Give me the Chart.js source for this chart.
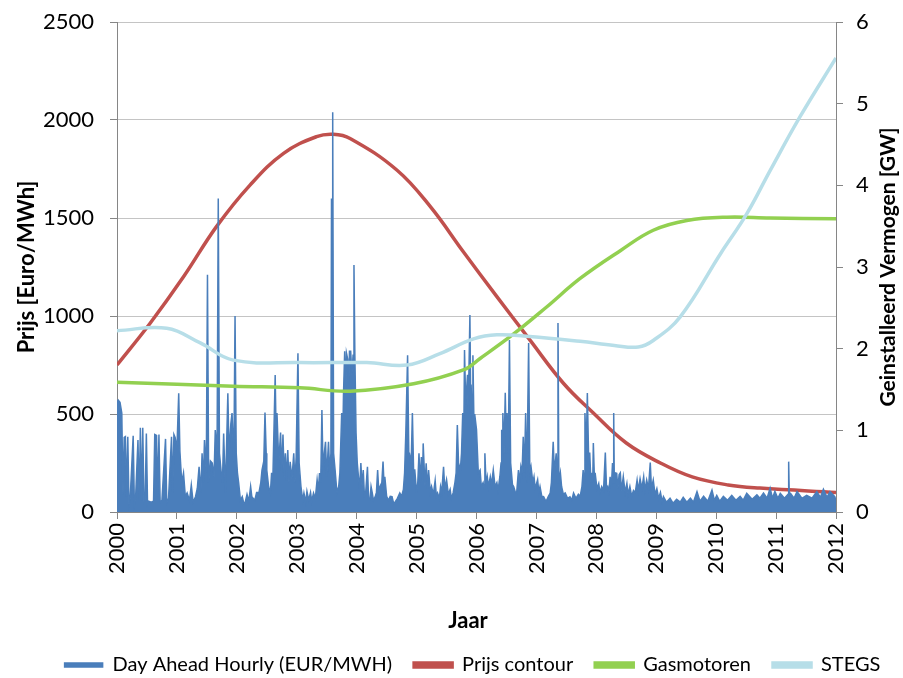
<!DOCTYPE html>
<html>
<head>
<meta charset="utf-8">
<script src="https://cdn.jsdelivr.net/npm/chart.js@4.4.1/dist/chart.umd.min.js"></script>
<style>
  html, body { margin: 0; padding: 0; background: #fff; overflow: hidden; }
  canvas { display: block; }
</style>
</head>
<body>
<canvas id="chart" width="903" height="685"></canvas>
<script>
// ---- data ----
const xTitle = "Jaar";
const leftTitle = "Prijs [Euro/MWh]";
const rightTitle = "Geinstalleerd Vermogen [GW]";
const seriesNames = ["Day Ahead Hourly (EUR/MWH)", "Prijs contour", "Gasmotoren", "STEGS"];

// day ahead hourly price, [year, EUR/MWh]
const hourlyPrices = [
  [2000.00, 560], [2000.02, 571], [2000.05, 560], [2000.08, 505], [2000.10, 90], [2000.12, 380],
  [2000.14, 384], [2000.16, 80], [2000.18, 384], [2000.20, 40], [2000.22, 70], [2000.27, 389],
  [2000.29, 40], [2000.31, 70], [2000.35, 367], [2000.37, 60], [2000.39, 430], [2000.41, 60],
  [2000.43, 430], [2000.45, 50], [2000.47, 60], [2000.49, 400], [2000.51, 40], [2000.53, 55],
  [2000.57, 50], [2000.61, 55], [2000.63, 395], [2000.66, 390], [2000.68, 80], [2000.70, 395],
  [2000.72, 50], [2000.75, 60], [2000.81, 373], [2000.83, 50], [2000.86, 70], [2000.91, 384],
  [2000.93, 100], [2000.95, 395], [2000.97, 380], [2001.00, 320], [2001.03, 606], [2001.05, 310],
  [2001.08, 150], [2001.11, 199], [2001.14, 80], [2001.17, 97], [2001.21, 60], [2001.24, 138],
  [2001.27, 50], [2001.31, 78], [2001.34, 120], [2001.37, 231], [2001.40, 100], [2001.42, 300],
  [2001.44, 150], [2001.46, 367], [2001.49, 200], [2001.51, 1210], [2001.53, 150], [2001.56, 260],
  [2001.59, 250], [2001.62, 180], [2001.64, 418], [2001.67, 300], [2001.69, 1600], [2001.71, 300],
  [2001.74, 200], [2001.76, 150], [2001.78, 400], [2001.81, 97], [2001.85, 606], [2001.87, 300],
  [2001.90, 450], [2001.92, 505], [2001.95, 250], [2001.97, 1000], [2001.99, 300], [2002.01, 200],
  [2002.03, 150], [2002.06, 60], [2002.09, 78], [2002.12, 40], [2002.14, 50], [2002.17, 90],
  [2002.20, 55], [2002.23, 130], [2002.25, 78], [2002.30, 60], [2002.33, 100], [2002.37, 100],
  [2002.40, 150], [2002.42, 214], [2002.45, 260], [2002.47, 507], [2002.49, 300], [2002.50, 214],
  [2002.53, 130], [2002.56, 97], [2002.58, 200], [2002.60, 150], [2002.64, 699], [2002.66, 300],
  [2002.67, 505], [2002.70, 250], [2002.73, 405], [2002.75, 200], [2002.77, 395], [2002.79, 180],
  [2002.81, 300], [2002.83, 160], [2002.85, 316], [2002.87, 150], [2002.89, 256], [2002.92, 170],
  [2002.95, 300], [2002.97, 150], [2002.99, 280], [2003.02, 810], [2003.04, 250], [2003.07, 130],
  [2003.10, 60], [2003.12, 97], [2003.15, 50], [2003.17, 105], [2003.20, 60], [2003.23, 100],
  [2003.25, 55], [2003.28, 97], [2003.31, 70], [2003.34, 165], [2003.36, 110], [2003.38, 199],
  [2003.40, 150], [2003.42, 520], [2003.44, 200], [2003.46, 300], [2003.48, 358], [2003.50, 180],
  [2003.53, 358], [2003.55, 200], [2003.57, 300], [2003.58, 1600], [2003.595, 300], [2003.60, 2040],
  [2003.615, 300], [2003.64, 214], [2003.67, 100], [2003.70, 130], [2003.72, 200], [2003.75, 505],
  [2003.77, 400], [2003.78, 600], [2003.80, 820], [2003.82, 600], [2003.83, 810], [2003.85, 780],
  [2003.87, 650], [2003.88, 820], [2003.90, 820], [2003.92, 700], [2003.94, 800], [2003.955, 1260],
  [2003.97, 800], [2003.99, 402], [2004.01, 250], [2004.03, 180], [2004.05, 120], [2004.07, 250],
  [2004.09, 130], [2004.11, 214], [2004.13, 80], [2004.15, 97], [2004.18, 231], [2004.20, 60],
  [2004.22, 60], [2004.24, 130], [2004.26, 97], [2004.28, 60], [2004.31, 78], [2004.33, 100],
  [2004.35, 214], [2004.37, 100], [2004.39, 130], [2004.42, 150], [2004.44, 257], [2004.46, 120],
  [2004.47, 180], [2004.50, 80], [2004.53, 60], [2004.56, 80], [2004.59, 78], [2004.62, 40],
  [2004.64, 50], [2004.68, 70], [2004.72, 97], [2004.75, 80], [2004.78, 115], [2004.80, 200],
  [2004.82, 400], [2004.85, 800], [2004.87, 300], [2004.88, 300], [2004.91, 250], [2004.93, 505],
  [2004.95, 214], [2004.97, 214], [2005.00, 97], [2005.02, 150], [2005.04, 300], [2005.06, 150],
  [2005.08, 280], [2005.10, 160], [2005.11, 350], [2005.14, 130], [2005.16, 248], [2005.18, 120],
  [2005.20, 214], [2005.23, 100], [2005.25, 130], [2005.28, 90], [2005.31, 160], [2005.33, 80],
  [2005.35, 97], [2005.38, 70], [2005.40, 130], [2005.42, 100], [2005.45, 231], [2005.47, 120],
  [2005.50, 165], [2005.53, 90], [2005.56, 115], [2005.58, 70], [2005.61, 97], [2005.64, 150],
  [2005.66, 200], [2005.68, 444], [2005.70, 250], [2005.73, 214], [2005.75, 300], [2005.77, 505],
  [2005.79, 450], [2005.80, 826], [2005.82, 550], [2005.83, 600], [2005.85, 700], [2005.86, 500],
  [2005.87, 650], [2005.89, 1005], [2005.905, 500], [2005.91, 650], [2005.93, 450], [2005.94, 800],
  [2005.96, 400], [2005.97, 500], [2006.00, 420], [2006.03, 200], [2006.06, 214], [2006.08, 130],
  [2006.11, 150], [2006.13, 120], [2006.14, 300], [2006.16, 140], [2006.18, 180], [2006.20, 130],
  [2006.23, 180], [2006.25, 140], [2006.28, 214], [2006.31, 130], [2006.34, 150], [2006.36, 110],
  [2006.39, 180], [2006.41, 250], [2006.42, 420], [2006.43, 250], [2006.44, 505], [2006.46, 300],
  [2006.48, 608], [2006.50, 300], [2006.51, 505], [2006.53, 300], [2006.55, 877], [2006.57, 250],
  [2006.60, 140], [2006.62, 130], [2006.65, 100], [2006.67, 97], [2006.70, 214], [2006.72, 150],
  [2006.74, 231], [2006.76, 200], [2006.78, 384], [2006.80, 200], [2006.82, 505], [2006.84, 150],
  [2006.87, 862], [2006.89, 200], [2006.91, 231], [2006.94, 150], [2006.96, 180], [2006.98, 120],
  [2007.02, 165], [2007.04, 100], [2007.06, 130], [2007.09, 80], [2007.12, 78], [2007.15, 60],
  [2007.17, 60], [2007.20, 80], [2007.23, 97], [2007.25, 150], [2007.28, 358], [2007.30, 200],
  [2007.33, 300], [2007.355, 150], [2007.36, 964], [2007.375, 150], [2007.40, 200], [2007.42, 130],
  [2007.45, 90], [2007.48, 97], [2007.52, 70], [2007.56, 78], [2007.59, 60], [2007.62, 97],
  [2007.66, 70], [2007.70, 90], [2007.73, 80], [2007.76, 130], [2007.78, 214], [2007.80, 150],
  [2007.81, 505], [2007.83, 300], [2007.85, 607], [2007.87, 300], [2007.89, 300], [2007.91, 150],
  [2007.92, 200], [2007.94, 150], [2007.95, 352], [2007.97, 150], [2007.98, 200], [2008.01, 120],
  [2008.04, 146], [2008.06, 100], [2008.09, 130], [2008.12, 110], [2008.15, 303], [2008.17, 120],
  [2008.19, 130], [2008.21, 100], [2008.23, 180], [2008.25, 120], [2008.27, 250], [2008.28, 150],
  [2008.29, 505], [2008.30, 150], [2008.31, 200], [2008.34, 197], [2008.36, 120], [2008.38, 190],
  [2008.40, 200], [2008.42, 110], [2008.45, 180], [2008.48, 100], [2008.51, 146], [2008.53, 90],
  [2008.56, 130], [2008.59, 80], [2008.62, 110], [2008.65, 100], [2008.68, 163], [2008.70, 110],
  [2008.73, 170], [2008.76, 120], [2008.79, 180], [2008.81, 110], [2008.84, 163], [2008.87, 120],
  [2008.90, 252], [2008.92, 120], [2008.95, 163], [2008.98, 90], [2009.01, 119], [2009.04, 70],
  [2009.07, 100], [2009.10, 50], [2009.12, 78], [2009.17, 50], [2009.23, 70], [2009.28, 45],
  [2009.34, 65], [2009.40, 50], [2009.45, 75], [2009.51, 50], [2009.57, 70], [2009.62, 50],
  [2009.68, 104], [2009.73, 55], [2009.79, 80], [2009.86, 55], [2009.93, 112], [2009.97, 60],
  [2010.01, 85], [2010.06, 55], [2010.12, 80], [2010.19, 60], [2010.26, 85], [2010.33, 60],
  [2010.40, 80], [2010.45, 60], [2010.51, 95], [2010.60, 65], [2010.68, 88], [2010.73, 70],
  [2010.79, 97], [2010.85, 70], [2010.90, 122], [2010.94, 70], [2010.98, 105], [2011.03, 70],
  [2011.07, 95], [2011.14, 70], [2011.20, 90], [2011.21, 257], [2011.22, 90], [2011.24, 95],
  [2011.30, 70], [2011.35, 104], [2011.43, 70], [2011.51, 85], [2011.60, 70], [2011.68, 104],
  [2011.74, 75], [2011.79, 116], [2011.85, 75], [2011.90, 104], [2011.98, 78], [2012.00, 60]
];

// smooth price contour, [year, EUR/MWh]
const priceContour = [
  [2000.0, 750], [2000.55, 962], [2001.11, 1200], [2001.66, 1456], [2002.22, 1668],
  [2002.78, 1830], [2003.33, 1915], [2003.61, 1927], [2003.89, 1906], [2004.67, 1745],
  [2005.23, 1558], [2005.78, 1328], [2006.34, 1099], [2006.89, 878], [2007.45, 657],
  [2007.95, 505], [2008.5, 352], [2009.07, 250], [2009.6, 179], [2010.2, 138],
  [2010.73, 122], [2012.0, 100]
];

// installed capacity gas engines, [year, GW]
const gasEngines = [
  [2000.0, 1.59], [2001.0, 1.565], [2001.94, 1.54], [2003.05, 1.52], [2003.89, 1.48],
  [2004.95, 1.57], [2005.78, 1.74], [2006.06, 1.88], [2006.62, 2.18], [2007.17, 2.51],
  [2007.73, 2.86], [2008.4, 3.2], [2008.95, 3.45], [2009.51, 3.57], [2010.18, 3.61],
  [2010.9, 3.6], [2012.0, 3.59]
];

// installed capacity STEGs, [year, GW]
const stegs = [
  [2000.0, 2.22], [2000.83, 2.25], [2001.39, 2.07], [2001.94, 1.86], [2003.05, 1.83],
  [2004.17, 1.83], [2004.84, 1.80], [2005.39, 1.94], [2005.95, 2.12], [2006.34, 2.17],
  [2006.89, 2.15], [2007.73, 2.09], [2008.3, 2.04], [2008.7, 2.02], [2008.95, 2.1],
  [2009.4, 2.39], [2010.07, 3.16], [2010.51, 3.65], [2010.9, 4.18], [2011.4, 4.84], [2012.0, 5.56]
];

const colors = ["#4a7ebb", "#c0504d", "#92d050", "#b7dee8"];
const FONT = "Lato, 'Open Sans', sans-serif";

const toPoints = (rows) => rows.map(([x, y]) => ({ x, y }));

// axis titles drawn by hand so they read bottom-to-top on both sides
const axisTitles = {
  id: "axisTitles",
  afterLayout(chart) {
    // the original legend sits a little right of centre
    chart.legend.left += 21;
    chart.legend.right += 21;
  },
  afterDraw(chart) {
    const { ctx, chartArea } = chart;
    const midY = (chartArea.top + chartArea.bottom) / 2;
    ctx.save();
    ctx.fillStyle = "#000";
    ctx.textAlign = "center";
    ctx.textBaseline = "middle";

    ctx.font = `bold 22px ${FONT}`;
    ctx.translate(27, midY);
    ctx.rotate(-Math.PI / 2);
    ctx.fillText(leftTitle, 0, 0);
    ctx.setTransform(1, 0, 0, 1, 0, 0);

    ctx.font = `bold 21px ${FONT}`;
    ctx.translate(888, midY);
    ctx.rotate(-Math.PI / 2);
    ctx.fillText(rightTitle, 0, 0);
    ctx.setTransform(1, 0, 0, 1, 0, 0);

    ctx.font = `bold 22px ${FONT}`;
    ctx.fillText(xTitle, 468, 621);
    ctx.restore();
  },
};

const smoothLine = (label, rows, color, order, axis) => ({
  label,
  data: toPoints(rows),
  yAxisID: axis,
  borderColor: color,
  backgroundColor: color,
  borderWidth: 3.5,
  pointRadius: 0,
  tension: 0.4,
  order,
});

const noEndPadding = (width) => (scale) => {
  scale.width = width;
  scale.paddingTop = 0;
  scale.paddingBottom = 0;
};

new Chart(document.getElementById("chart"), {
  type: "line",
  plugins: [axisTitles],
  data: {
    datasets: [
      {
        label: seriesNames[0],
        data: toPoints(hourlyPrices),
        yAxisID: "y",
        borderColor: colors[0],
        backgroundColor: colors[0],
        borderWidth: 1.5,
        pointRadius: 0,
        tension: 0,
        fill: "origin",
        order: 2,
      },
      smoothLine(seriesNames[1], priceContour, colors[1], 3, "y"),
      smoothLine(seriesNames[2], gasEngines, colors[2], 1, "y1"),
      smoothLine(seriesNames[3], stegs, colors[3], 0, "y1"),
    ],
  },
  options: {
    responsive: false,
    animation: false,
    events: [],
    layout: { padding: { top: 22, left: 0, right: 0, bottom: 0 } },
    plugins: {
      tooltip: { enabled: false },
      legend: {
        position: "bottom",
        labels: {
          font: { family: FONT, size: 20 },
          color: "#000",
          boxWidth: 38,
          boxHeight: 4,
          padding: 22,
          sort: (a, b) => a.datasetIndex - b.datasetIndex,
        },
      },
    },
    scales: {
      x: {
        type: "linear",
        min: 2000,
        max: 2012,
        afterFit: (scale) => { scale.height = 121; },
        border: { color: "#868686" },
        grid: { drawOnChartArea: false, tickLength: 7, color: "#868686" },
        ticks: {
          stepSize: 1,
          minRotation: 90,
          maxRotation: 90,
          padding: 4,
          color: "#000",
          font: { family: FONT, size: 22 },
          callback: (v) => String(v),
        },
      },
      y: {
        position: "left",
        min: 0,
        max: 2500,
        afterFit: noEndPadding(117),
        border: { color: "#868686" },
        grid: { color: "#c4c4c4", tickLength: 7, tickColor: "#868686" },
        ticks: {
          stepSize: 500,
          padding: 16,
          color: "#000",
          font: { family: FONT, size: 22 },
          callback: (v) => String(v),
        },
      },
      y1: {
        position: "right",
        min: 0,
        max: 6,
        afterFit: noEndPadding(67),
        border: { color: "#868686" },
        grid: { drawOnChartArea: false, tickLength: 7, color: "#868686" },
        ticks: {
          stepSize: 1,
          padding: 13,
          color: "#000",
          font: { family: FONT, size: 22 },
        },
      },
    },
  },
});
</script>
</body>
</html>
